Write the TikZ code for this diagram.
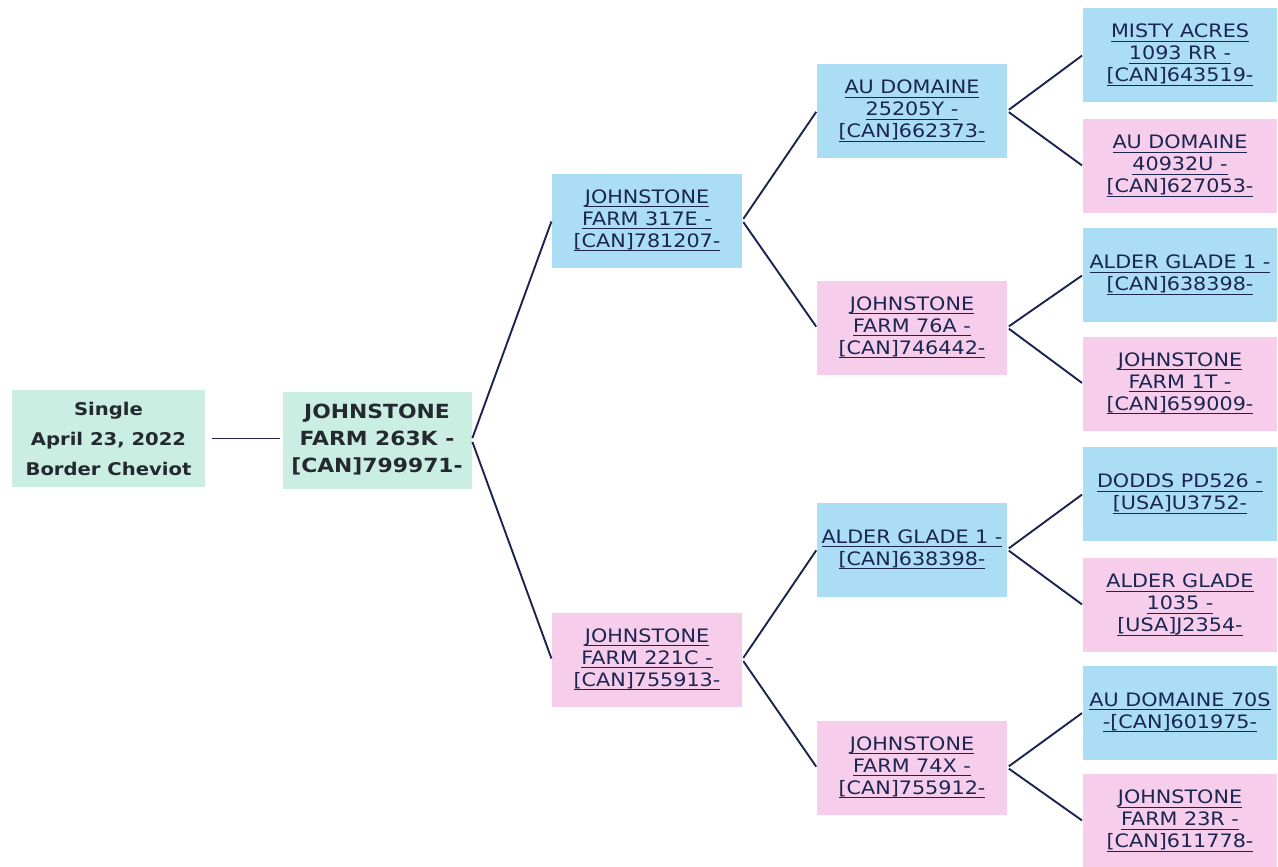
\documentclass[tikz,border=0pt]{standalone}
\usepackage{fontspec}
\setmainfont{DejaVu Sans}[FakeStretch=1.12]
\definecolor{boxblue}{HTML}{ABDDF5}
\definecolor{boxpink}{HTML}{F7CDEC}
\definecolor{rootgreen}{HTML}{CBEEE3}
\definecolor{txt}{HTML}{1A2550}
\definecolor{roottxt}{HTML}{24282F}
\definecolor{linec}{HTML}{1B2350}
\newcommand{\lnk}[1]{\setbox0=\hbox{#1}\rlap{\vrule height -2.8pt depth 4.2pt width \wd0}\box0}
\begin{document}
\begin{tikzpicture}[x=1pt,y=-1pt,
  box/.style={rectangle, inner sep=0pt, minimum width=190pt, minimum height=94pt,
    align=center, text=txt, font=\fontsize{18.5}{22}\selectfont},
  sire/.style={box, fill=boxblue},
  dam/.style={box, fill=boxpink},
  link/.style={draw=linec, line width=1.9pt, shorten >=1pt, shorten <=2pt}]
\useasboundingbox (0,0) rectangle (1278,867);
% generation 0 and 1
\node[box, fill=rootgreen, text=roottxt, minimum width=193pt, minimum height=97pt,
  font=\bfseries\fontsize{17.5}{30}\selectfont] (root) at (108.5,438.5)
  {Single\\April 23, 2022\\Border Cheviot};
\node[box, fill=rootgreen, text=roottxt, minimum width=189pt, minimum height=97pt,
  font=\bfseries\fontsize{19.5}{27}\selectfont] (k263) at (377,440)
  {JOHNSTONE\\FARM 263K -\\{}[CAN]799971-};
% generation 2
\node[sire] (e317) at (647,220.5) {\lnk{JOHNSTONE}\\\lnk{FARM 317E -}\\\lnk{[CAN]781207-}};
\node[dam]  (c221) at (647,659.5) {\lnk{JOHNSTONE}\\\lnk{FARM 221C -}\\\lnk{[CAN]755913-}};
% generation 3
\node[sire] (y252) at (912,111)   {\lnk{AU DOMAINE}\\\lnk{25205Y -}\\\lnk{[CAN]662373-}};
\node[dam]  (a76)  at (912,327.5) {\lnk{JOHNSTONE}\\\lnk{FARM 76A -}\\\lnk{[CAN]746442-}};
\node[sire] (ag1b) at (912,549.5) {\lnk{ALDER GLADE 1 -}\\\lnk{[CAN]638398-}};
\node[dam]  (x74)  at (912,767.5) {\lnk{JOHNSTONE}\\\lnk{FARM 74X -}\\\lnk{[CAN]755912-}};
% generation 4
\node[sire, minimum width=194pt] (misty) at (1180,55)    {\lnk{MISTY ACRES}\\\lnk{1093 RR -}\\\lnk{[CAN]643519-}};
\node[dam,  minimum width=194pt] (u409)  at (1180,166)   {\lnk{AU DOMAINE}\\\lnk{40932U -}\\\lnk{[CAN]627053-}};
\node[sire, minimum width=194pt] (ag1a)  at (1180,275)   {\lnk{ALDER GLADE 1 -}\\\lnk{[CAN]638398-}};
\node[dam,  minimum width=194pt] (t1)    at (1180,383.5) {\lnk{JOHNSTONE}\\\lnk{FARM 1T -}\\\lnk{[CAN]659009-}};
\node[sire, minimum width=194pt] (dodds) at (1180,494)   {\lnk{DODDS PD526 -}\\\lnk{[USA]U3752-}};
\node[dam,  minimum width=194pt] (ag35)  at (1180,605)   {\lnk{ALDER GLADE}\\\lnk{1035 -}\\\lnk{[USA]J2354-}};
\node[sire, minimum width=194pt] (s70)   at (1180,712.5) {\lnk{AU DOMAINE 70S}\\\lnk{-[CAN]601975-}};
\node[dam,  minimum width=194pt] (r23)   at (1180,821)   {\lnk{JOHNSTONE}\\\lnk{FARM 23R -}\\\lnk{[CAN]611778-}};
% connectors
\draw[link, shorten <=7pt, shorten >=2pt] (root.east) -- (root.east -| k263.west);
\draw[link] (k263.east) -- (e317.west);
\draw[link] (k263.east) -- (c221.west);
\draw[link] (e317.east) -- (y252.west);
\draw[link] (e317.east) -- (a76.west);
\draw[link] (c221.east) -- (ag1b.west);
\draw[link] (c221.east) -- (x74.west);
\draw[link] (y252.east) -- (misty.west);
\draw[link] (y252.east) -- (u409.west);
\draw[link] (a76.east) -- (ag1a.west);
\draw[link] (a76.east) -- (t1.west);
\draw[link] (ag1b.east) -- (dodds.west);
\draw[link] (ag1b.east) -- (ag35.west);
\draw[link] (x74.east) -- (s70.west);
\draw[link] (x74.east) -- (r23.west);
\end{tikzpicture}
\end{document}
